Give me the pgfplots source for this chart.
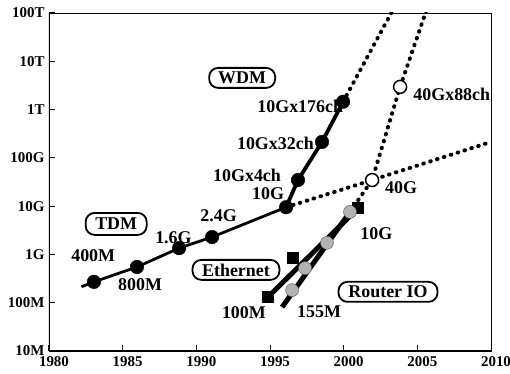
\documentclass[border=0pt]{standalone}
\usepackage{fontspec}
\setmainfont{Liberation Serif}
\usepackage{pgfplots}
\pgfplotsset{compat=1.18}
\begin{document}
\begin{tikzpicture}[
 lab/.style={font=\fontsize{18}{18}\selectfont\bfseries, inner sep=0pt, anchor=west},
 box/.style={draw, line width=1.8bp, rounded corners=9bp, inner sep=0pt, fill=white,
   font=\fontsize{18}{18}\selectfont\bfseries},
 dots/.style={black, line width=4bp, line cap=round, dash pattern=on 0.6bp off 6.6bp},
]
\useasboundingbox (-49bp,-23bp) rectangle (461bp,351bp);
\begin{axis}[
 at={(0,0)}, anchor=south west,
 scale only axis, width=442bp, height=338bp,
 xmin=1980, xmax=2010, ymode=log, ymin=1e7, ymax=1e14,
 xtick={1980,1985,1990,1995,2000,2005,2010},
 xticklabels={1980,1985,1990,1995,2000,2005,2010},
 ytick={1e7,1e8,1e9,1e10,1e11,1e12,1e13,1e14},
 yticklabels={10M,100M,1G,10G,100G,1T,10T,100T},
 yminorticks=false, xminorticks=false,
 tick pos=left, tick align=inside, major tick length=6bp,
 tick style={line width=1bp, black},
 ticklabel style={font=\fontsize{15}{15}\selectfont\bfseries},
 xticklabel style={xshift=5bp, yshift=-2.5bp},
 yticklabel style={xshift=-1bp},
 /pgf/number format/assume math mode=true,
 /pgf/number format/1000 sep={},
 axis line style={line width=0.9bp},
]
% dotted extrapolations
\addplot[dots] coordinates {(1999.96,1.45e12) (2003.3,1.1e14)};
\addplot[dots] coordinates {(1996.09,9.5e9) (2001.93,3.47e10) (2010,2.14e11)};
\addplot[dots] coordinates {(2000.43,7.6e9) (2001.93,3.47e10) (2003.83,2.95e12) (2005.6,1.1e14)};
% solid trends
\addplot[black, line width=2.8bp] coordinates {(1982.2,2.14e8) (1983.05,2.7e8) (1985.97,5.5e8) (1988.83,1.35e9) (1991.07,2.29e9) (1996.09,9.5e9)};
\addplot[black, line width=3.8bp] coordinates {(1996.09,9.5e9) (1996.90,3.47e10) (1998.53,2.14e11) (1999.96,1.45e12)};
\addplot[black, line width=5bp] coordinates {(1994.87,1.32e8) (2000.98,9.1e9)};
\addplot[black, line width=5bp] coordinates {(1995.82,8.1e7) (2000.43,7.6e9)};
% labels
\node[lab] at (rel axis cs:0.050,0.281) {400M};
\node[lab] at (rel axis cs:0.156,0.195) {800M};
\node[lab] at (rel axis cs:0.240,0.334) {1.6G};
\node[lab] at (rel axis cs:0.342,0.399) {2.4G};
\node[lab] at (rel axis cs:0.459,0.466) {10G};
\node[lab] at (rel axis cs:0.371,0.519) {10Gx4ch};
\node[lab] at (rel axis cs:0.425,0.615) {10Gx32ch};
\node[lab] at (rel axis cs:0.471,0.725) {10Gx176ch};
\node[lab] at (rel axis cs:0.824,0.760) {40Gx88ch};
\node[lab] at (rel axis cs:0.760,0.482) {40G};
\node[lab] at (rel axis cs:0.704,0.346) {10G};
\node[lab] at (rel axis cs:0.391,0.115) {100M};
\node[lab] at (rel axis cs:0.561,0.115) {155M};
\node[box, minimum width=61bp, minimum height=22bp] at (rel axis cs:0.152,0.376) {TDM};
\node[box, minimum width=66bp, minimum height=20bp] at (rel axis cs:0.437,0.808) {WDM};
\node[box, minimum width=87bp, minimum height=20bp] at (rel axis cs:0.423,0.240) {Ethernet};
\node[box, minimum width=99bp, minimum height=20bp] at (rel axis cs:0.767,0.175) {Router IO};
% marks
\addplot[only marks, mark=square*, mark size=5.5bp, black] coordinates {(1994.87,1.32e8) (1996.56,8.5e8) (2000.98,9.1e9)};
\addplot[only marks, mark=*, mark size=6.5bp, mark options={fill=gray!60, draw=gray!70!black, line width=0.4bp}] coordinates {(1996.50,1.82e8) (1997.38,5.2e8) (1998.87,1.74e9) (2000.43,7.6e9)};
\addplot[only marks, mark=*, mark size=6.8bp, black] coordinates {(1983.05,2.7e8) (1985.97,5.5e8) (1988.83,1.35e9) (1991.07,2.29e9) (1996.09,9.5e9) (1996.90,3.47e10) (1998.53,2.14e11) (1999.96,1.45e12)};
\addplot[only marks, mark=*, mark size=6.5bp, mark options={fill=white, draw=black, line width=1.5bp}] coordinates {(2001.93,3.47e10) (2003.83,2.95e12)};
\draw[line width=1.8bp] (rel axis cs:0,1) -- (rel axis cs:0,0) -- (rel axis cs:1,0);
\end{axis}
\end{tikzpicture}
\end{document}
